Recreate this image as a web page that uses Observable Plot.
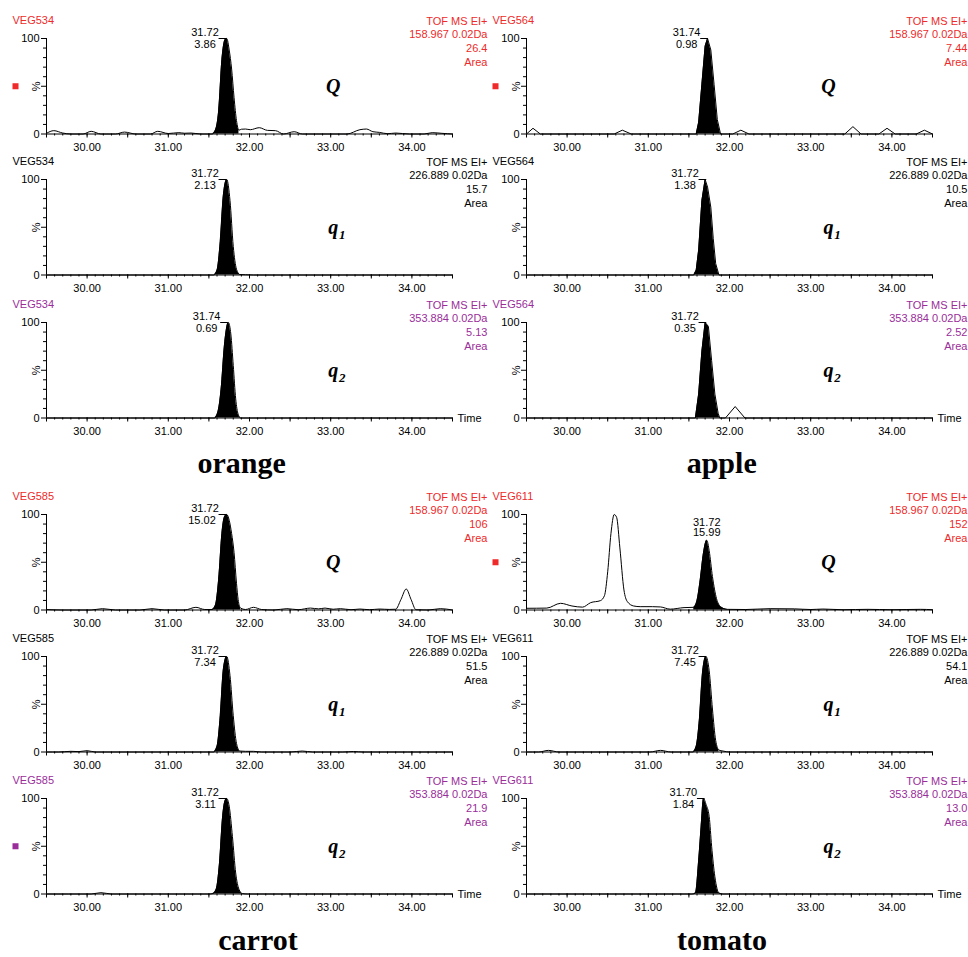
<!DOCTYPE html>
<html><head><meta charset="utf-8">
<script src="https://cdn.jsdelivr.net/npm/d3@7"></script>
<script src="https://cdn.jsdelivr.net/npm/@observablehq/plot@0.6"></script>
<style>
body{margin:0;background:#fff;}
#chart{position:relative;width:968px;height:957px;overflow:hidden;font-family:"Liberation Sans",Arial,sans-serif;}
.panel{position:absolute;}
.title{position:absolute;font-family:"Liberation Serif","Times New Roman",serif;font-weight:bold;font-size:30px;line-height:26px;transform:translateX(-50%);white-space:nowrap;color:#000;}
</style></head><body><div id="chart"></div>
<script>
// ---------- data ----------
const samples = ["orange", "apple", "carrot", "tomato"];
const sampleIds = ["VEG534", "VEG564", "VEG585", "VEG611"];
const ions = ["Q", "q1", "q2"];
const ionMasses = ["158.967", "226.889", "353.884"];
const ionColors = ["#ee2a2a", "#000000", "#9a2d9a"];
const totalAreas = [["26.4", "15.7", "5.13"], ["7.44", "10.5", "2.52"], ["106", "51.5", "21.9"], ["152", "54.1", "13.0"]];
const peakRT = [["31.72", "31.72", "31.74"], ["31.74", "31.72", "31.72"], ["31.72", "31.72", "31.72"], ["31.72", "31.72", "31.70"]];
const peakArea = [["3.86", "2.13", "0.69"], ["0.98", "1.38", "0.35"], ["15.02", "7.34", "3.11"], ["15.99", "7.45", "1.84"]];
const peakWindow = [
  [[31.54, 31.88], [31.56, 31.88], [31.57, 31.89]],
  [[31.59, 31.89], [31.56, 31.87], [31.58, 31.88]],
  [[31.54, 31.89], [31.56, 31.88], [31.55, 31.91]],
  [[31.56, 31.97], [31.55, 31.87], [31.54, 31.92]]
];
const markers = [["orange", "Q"], ["apple", "Q"], ["tomato", "Q"], ["carrot", "q2"]];
const majorTicks = [30, 31, 32, 33, 34];
const halfTicks = [29.5, 30.5, 31.5, 32.5, 33.5, 34.5];
const yMinorTicks = [10, 20, 30, 40, 60, 70, 80, 90];

// traces: [retention time (min), intensity (%)]
const orangeQ = [[29.50,0.7],[29.59,3.5],[29.70,1],[29.80,0],[29.95,0],[30.05,2.8],[30.17,0],[30.35,0],[30.46,2],[30.60,0],[30.78,0],[30.87,2.8],[31.00,0.5],[31.13,1.4],[31.20,0.8],[31.28,1],[31.40,0],[31.54,0],[31.58,4],[31.62,24],[31.66,78],[31.70,99],[31.72,100],[31.75,88],[31.78,68],[31.81,38],[31.84,14],[31.87,4],[31.90,5],[31.95,5.2],[32.01,4.5],[32.12,6.6],[32.22,3.8],[32.32,3.5],[32.42,0],[32.55,2.4],[32.65,0],[33.20,0],[33.36,4.5],[33.44,5.2],[33.52,2.4],[33.60,1.7],[33.70,0.3],[33.80,1],[33.97,0],[34.15,0],[34.25,1.4],[34.37,0.7],[34.50,0]];
const orangeQ1 = [[29.50,0],[31.56,0],[31.60,5],[31.64,35],[31.68,85],[31.72,100],[31.76,78],[31.80,30],[31.84,6],[31.88,0.5],[31.95,0.3],[32.05,0],[34.50,0]];
const orangeQ2 = [[29.50,0],[31.57,0],[31.61,6],[31.65,30],[31.69,75],[31.74,100],[31.77,88],[31.80,55],[31.83,20],[31.86,4],[31.89,0],[34.50,0]];
const appleQ = [[29.50,0],[29.58,6],[29.67,0],[30.58,0],[30.68,4],[30.79,0],[31.59,0],[31.62,12],[31.66,52],[31.70,92],[31.73,100],[31.77,88],[31.81,52],[31.85,15],[31.89,0],[32.04,0],[32.14,4],[32.24,0],[33.42,0],[33.52,7.7],[33.62,0],[33.84,0],[33.94,6],[34.04,0],[34.30,0],[34.40,4],[34.50,0]];
const appleQ1 = [[29.50,0],[31.56,0],[31.59,5],[31.62,26],[31.66,78],[31.70,100],[31.73,92],[31.77,71],[31.80,38],[31.83,12],[31.87,0],[34.50,0]];
const appleQ2 = [[29.50,0],[31.58,0],[31.62,25],[31.66,70],[31.70,100],[31.74,96],[31.78,60],[31.82,25],[31.86,5],[31.88,0],[31.95,0],[32.07,12],[32.19,0],[34.50,0]];
const carrotQ = [[29.50,0.5],[29.70,0],[30.05,0],[30.19,1.4],[30.35,0],[30.65,0],[30.80,1.4],[30.95,0],[31.20,0],[31.34,2.8],[31.45,0.5],[31.54,0.5],[31.58,5],[31.62,32],[31.66,80],[31.69,97],[31.72,100],[31.75,94],[31.78,80],[31.81,60],[31.84,28],[31.86,11],[31.89,2],[31.95,0.5],[32.05,2.8],[32.15,0.5],[32.30,0],[32.46,1.4],[32.60,0.3],[32.75,2],[32.85,1.2],[32.93,2],[33.03,0.8],[33.12,1.4],[33.25,0.3],[33.36,1],[33.48,0.3],[33.60,1],[33.72,0.6],[33.80,0.8],[33.865,11],[33.93,22],[33.99,11],[34.05,0.3],[34.20,0],[34.35,1.4],[34.50,0]];
const carrotQ1 = [[29.50,0],[29.65,0],[29.80,0.7],[29.90,0.4],[30.00,1.4],[30.10,0],[31.56,0],[31.60,6],[31.64,38],[31.68,88],[31.72,100],[31.76,80],[31.80,38],[31.84,9],[31.88,1],[31.95,0.7],[32.05,0.7],[32.15,0],[32.50,0],[32.65,1],[32.78,0],[33.15,0],[33.28,0.5],[33.40,0],[34.50,0]];
const carrotQ2 = [[29.50,0],[30.05,0],[30.17,1.4],[30.30,0],[31.50,0],[31.55,0.5],[31.59,5],[31.63,32],[31.67,82],[31.70,98],[31.72,100],[31.75,92],[31.79,60],[31.83,22],[31.87,5],[31.91,0.5],[31.98,0],[34.50,0]];
const tomatoQ = [[29.50,1.8],[29.75,2],[29.92,7],[30.06,4.2],[30.19,3],[30.29,7.7],[30.41,9.8],[30.46,15],[30.50,40],[30.54,80],[30.58,100],[30.61,97],[30.65,65],[30.70,21],[30.74,9],[30.82,4.2],[30.90,3.5],[31.05,3.5],[31.15,3.2],[31.27,0.9],[31.44,2.5],[31.56,2.8],[31.60,10],[31.64,32],[31.68,60],[31.72,73],[31.75,62],[31.79,35],[31.84,12],[31.89,3.5],[31.97,0.7],[32.20,0.5],[32.50,1.4],[32.80,1.2],[33.00,0.5],[33.15,1],[33.40,0.3],[33.70,0.7],[34.00,0.3],[34.35,0.7],[34.50,0.3]];
const tomatoQ1 = [[29.50,0],[29.65,0],[29.77,1.7],[29.90,0],[31.02,0],[31.15,1.7],[31.28,0],[31.55,0],[31.59,6],[31.63,35],[31.67,85],[31.71,100],[31.75,85],[31.79,45],[31.83,12],[31.87,2],[31.92,1],[32.00,0],[34.50,0]];
const tomatoQ2 = [[29.50,0],[31.54,0],[31.58,1],[31.62,35],[31.65,70],[31.68,100],[31.71,94],[31.75,81],[31.78,50],[31.82,18],[31.87,1],[31.92,0],[34.50,0]];

const traces = [[orangeQ, orangeQ1, orangeQ2], [appleQ, appleQ1, appleQ2], [carrotQ, carrotQ1, carrotQ2], [tomatoQ, tomatoQ1, tomatoQ2]];
const traceCurve = ["monotone-x", "linear", "monotone-x", "monotone-x"];

// ---------- layout ----------
const sampleCol = [0, 1, 0, 1];
const sampleGroup = [0, 0, 1, 1];
const panelTops = [[0, 141.3, 283.7], [476.3, 618, 760.3]];
const colLeft = [0, 490];
const colWidth = [490, 478];
const colMarginLeft = [46, 36];
const colMarginRight = [38, 36];
const ionLabelX = [33.03, 33.22];
const titlePos = [[241.7, 450.2], [721.7, 450.2], [258, 926.5], [722, 926.5]];

const minorTicks = d3.range(296, 345).map(i => i / 10);
const chart = document.getElementById("chart");

function makePanel(s, i) {
  const col = sampleCol[s];
  const color = ionColors[i];
  const pts = traces[s][i].map(([t, v]) => ({t, v}));
  const [a, b] = peakWindow[s][i];
  const peak = pts.filter(d => d.t >= a && d.t <= b);
  const curve = traceCurve[s];
  const rt = +peakRT[s][i];
  const apex = d3.max(peak, d => d.v);
  const above = apex < 90;
  const serif = "'Liberation Serif','Times New Roman',serif";
  const marks = [
    Plot.areaY(peak, {x: "t", y: "v", fill: "black", curve}),
    Plot.line(pts, {x: "t", y: "v", stroke: "black", strokeWidth: 1, curve}),
    Plot.ruleY([0], {stroke: "black"}),
    Plot.ruleX([29.5], {y1: 0, y2: 100, stroke: "black"}),
    Plot.axisX(majorTicks, {tickSize: 4, tickPadding: 5, tickFormat: d3.format(".2f"), label: null, fontSize: 11}),
    Plot.axisX(halfTicks, {tickSize: 4, tickFormat: () => "", label: null}),
    Plot.axisX(minorTicks, {tickSize: 2, tickFormat: () => "", label: null}),
    Plot.axisY([0, 100], {tickSize: 5, tickPadding: 2, label: null, fontSize: 11}),
    Plot.axisY([50], {tickSize: 5, tickFormat: () => "", label: null}),
    Plot.axisY(yMinorTicks, {tickSize: 3, tickFormat: () => "", label: null}),
    Plot.text(["%"], {frameAnchor: "left", y: 50, dx: -10, rotate: -90, textAnchor: "middle", lineAnchor: "middle", fontSize: 11}),
    Plot.text([sampleIds[s]], {frameAnchor: "top-left", dx: -34, dy: -18.5, textAnchor: "start", lineAnchor: "middle", fill: color, fontSize: 11}),
    Plot.text([`TOF MS EI+\n${ionMasses[i]} 0.02Da\n${totalAreas[s][i]}\nArea`], {frameAnchor: "top-right", dx: 35, dy: -23.7, textAnchor: "end", lineAnchor: "top", lineHeight: 1.245, fill: color, fontSize: 11}),
    Plot.text([ions[i][0]], {x: ionLabelX[col], y: 50, textAnchor: "middle", lineAnchor: "middle", fontFamily: serif, fontWeight: "bold", fontStyle: "italic", fontSize: 20})
  ];
  if (ions[i].length > 1) {
    marks.push(Plot.text([ions[i].slice(1)], {x: ionLabelX[col], y: 50, dx: 9, dy: 8, textAnchor: "middle", lineAnchor: "middle", fontFamily: serif, fontWeight: "bold", fontStyle: "italic", fontSize: 13}));
  }
  if (above) {
    marks.push(Plot.text([{x: rt, y: apex, l: peakRT[s][i]}], {x: "x", y: "y", text: "l", dy: -18, textAnchor: "middle", lineAnchor: "middle", fontSize: 11}));
    marks.push(Plot.text([{x: rt, y: apex, l: peakArea[s][i]}], {x: "x", y: "y", text: "l", dy: -7.5, textAnchor: "middle", lineAnchor: "middle", fontSize: 11}));
  } else {
    marks.push(Plot.ruleY([{x1: rt - 0.095, x2: rt, y: 100}], {x1: "x1", x2: "x2", y: "y", stroke: "black"}));
    marks.push(Plot.text([{x: rt, y: 100, l: peakRT[s][i]}], {x: "x", y: "y", text: "l", dx: -8, dy: -6, textAnchor: "end", lineAnchor: "middle", fontSize: 11}));
    marks.push(Plot.text([{x: rt, y: 100, l: peakArea[s][i]}], {x: "x", y: "y", text: "l", dx: -11, dy: 5.5, textAnchor: "end", lineAnchor: "middle", fontSize: 11}));
  }
  if (i === 2) {
    marks.push(Plot.text(["Time"], {x: 34.5, y: 0, dx: 5, textAnchor: "start", lineAnchor: "middle", fontSize: 11}));
  }
  const mk = markers.find(([sm, io]) => sm === samples[s] && io === ions[i]);
  if (mk) {
    marks.push(Plot.dot([50], {y: d => d, frameAnchor: "left", dx: -31, symbol: "square", r: 3.4, fill: color, stroke: "none"}));
  }
  const svg = Plot.plot({
    width: colWidth[col],
    height: 156,
    marginLeft: colMarginLeft[col],
    marginRight: colMarginRight[col],
    marginTop: 38,
    marginBottom: 22.5,
    x: {domain: [29.5, 34.5], axis: null},
    y: {domain: [0, 100], axis: null},
    style: {background: "transparent", fontFamily: "'Liberation Sans', Arial, sans-serif", fontSize: "11px", overflow: "visible", color: "black"},
    marks
  });
  svg.classList.add("panel");
  svg.style.position = "absolute";
  svg.style.left = colLeft[col] + "px";
  svg.style.top = panelTops[sampleGroup[s]][i] + "px";
  svg.style.maxWidth = "none";
  chart.appendChild(svg);
}

samples.forEach((name, s) => {
  ions.forEach((_, i) => makePanel(s, i));
  const t = document.createElement("div");
  t.className = "title";
  t.textContent = name;
  t.style.left = titlePos[s][0] + "px";
  t.style.top = titlePos[s][1] + "px";
  chart.appendChild(t);
});
</script></body></html>
